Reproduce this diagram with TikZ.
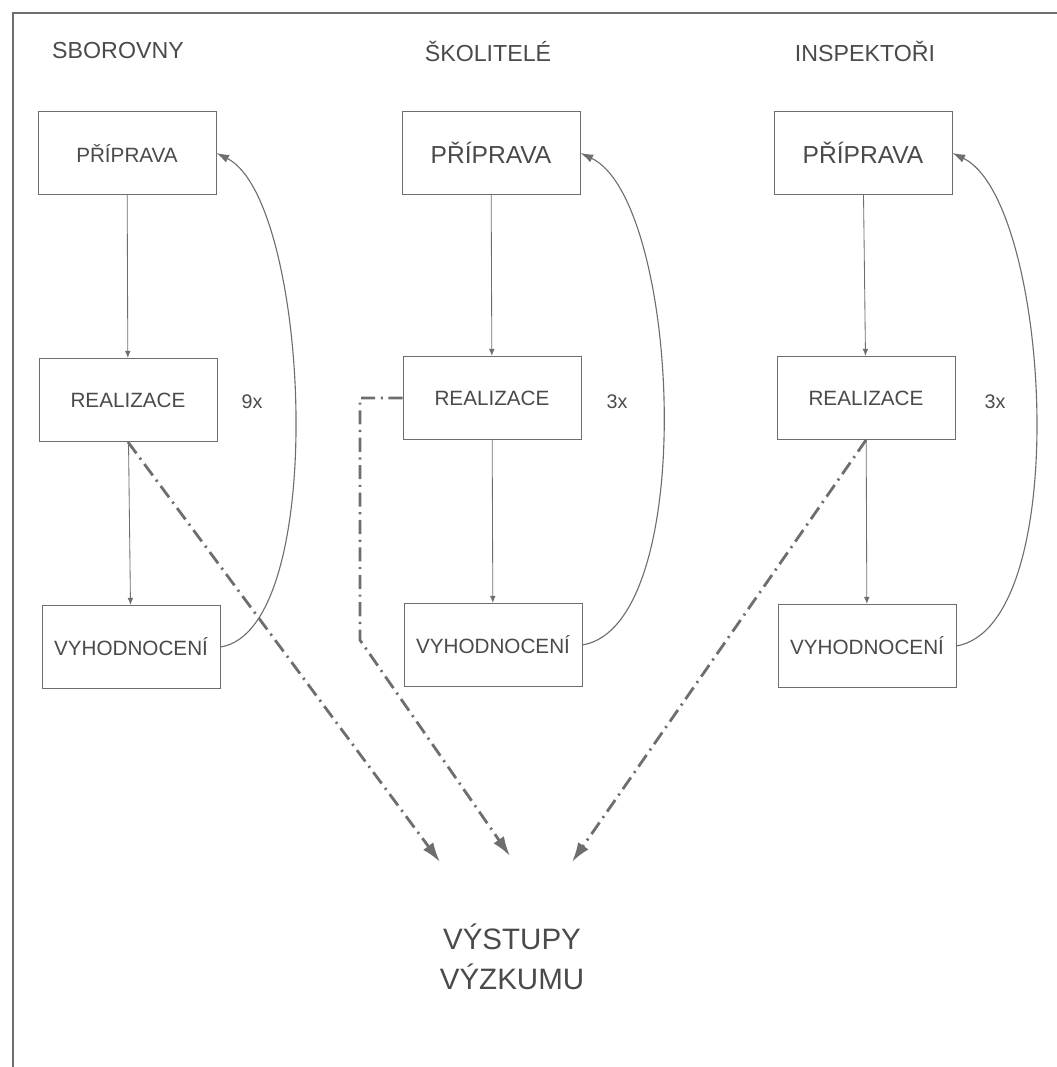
\documentclass[tikz,border=0pt]{standalone}
\usepackage{fontspec}
\setmainfont{Liberation Sans}
\usetikzlibrary{arrows.meta}
\definecolor{linegray}{HTML}{6E6E6E}
\definecolor{textgray}{HTML}{4A4A4A}

\begin{document}
\begin{tikzpicture}[x=0.025cm, y=-0.025cm,
  box/.style={draw=linegray, line width=0.6pt, minimum width=4.45cm, minimum height=2.08cm, inner sep=0pt, text=textgray, font=\fontsize{14.7}{17}\selectfont},
  bigbox/.style={box, font=\fontsize{17.5}{20}\selectfont},
  title/.style={text=textgray, font=\fontsize{16.5}{19}\selectfont},
  times/.style={text=textgray, font=\fontsize{14}{16}\selectfont},
  flow/.style={draw=linegray, line width=0.6pt, -{Latex[length=5pt,width=4pt]}},
  backarc/.style={draw=linegray, line width=0.8pt, -{Latex[length=9pt,width=6pt]}},
  resultarrow/.style={draw=linegray, line width=2pt, dash pattern=on 10pt off 4pt on 1.5pt off 4pt, -{Latex[length=14pt,width=9pt]}}]

\useasboundingbox (0,0) rectangle (1057,1067);
\draw [linegray, line width=1.5pt] (13,1067) -- (13,13) -- (1057,13);

% column headings
\node [title] (sborovny) at (118,51) {SBOROVNY};
\node [title] (skolitele) at (488,51) {ŠKOLITELÉ};
\node [title] (inspektori) at (865,51) {INSPEKTOŘI};

% boxes
\node [box]    (prip1) at (127,153) {PŘÍPRAVA};
\node [box]    (real1) at (128,400) {REALIZACE};
\node [box]    (vyh1)  at (131,647) {VYHODNOCENÍ};

\node [bigbox] (prip2) at (491,153) {PŘÍPRAVA};
\node [box]    (real2) at (492,398) {REALIZACE};
\node [box]    (vyh2)  at (493,645) {VYHODNOCENÍ};

\node [bigbox] (prip3) at (863,153) {PŘÍPRAVA};
\node [box]    (real3) at (866,398) {REALIZACE};
\node [box]    (vyh3)  at (867,646) {VYHODNOCENÍ};

\node [times] (n1) at (252,402) {9x};
\node [times] (n2) at (617,402) {3x};
\node [times] (n3) at (995,402) {3x};

\node [text=textgray, font=\fontsize{21}{28}\selectfont, align=center] (vystupy) at (512,957) {VÝSTUPY\\VÝZKUMU};

% flow inside each column
\draw [flow] (prip1) -- (real1);
\draw [flow] (real1) -- (vyh1);
\draw [flow] (prip2) -- (real2);
\draw [flow] (real2) -- (vyh2);
\draw [flow] (prip3) -- (real3);
\draw [flow] (real3) -- (vyh3);

\draw [backarc] (vyh1.east) .. controls (330,630) and (310,200) .. (prip1.east);
\draw [backarc] (vyh2.east) .. controls (700,625) and (680,200) .. (prip2.east);
\draw [backarc] (vyh3.east) .. controls (1075,625) and (1050,200) .. (prip3.east);

% results
\coordinate (tip1) at (440,862);
\coordinate (tip2) at (510,856);
\coordinate (tip3) at (572,862);
\coordinate (bend2) at (360,640);

\draw [resultarrow] (real1.south) -- (tip1);
\draw [resultarrow] (real2.west) -- (bend2 |- real2.west) -- (bend2) -- (tip2);
\draw [resultarrow] (real3.south) -- (tip3);

\end{tikzpicture}
\end{document}
